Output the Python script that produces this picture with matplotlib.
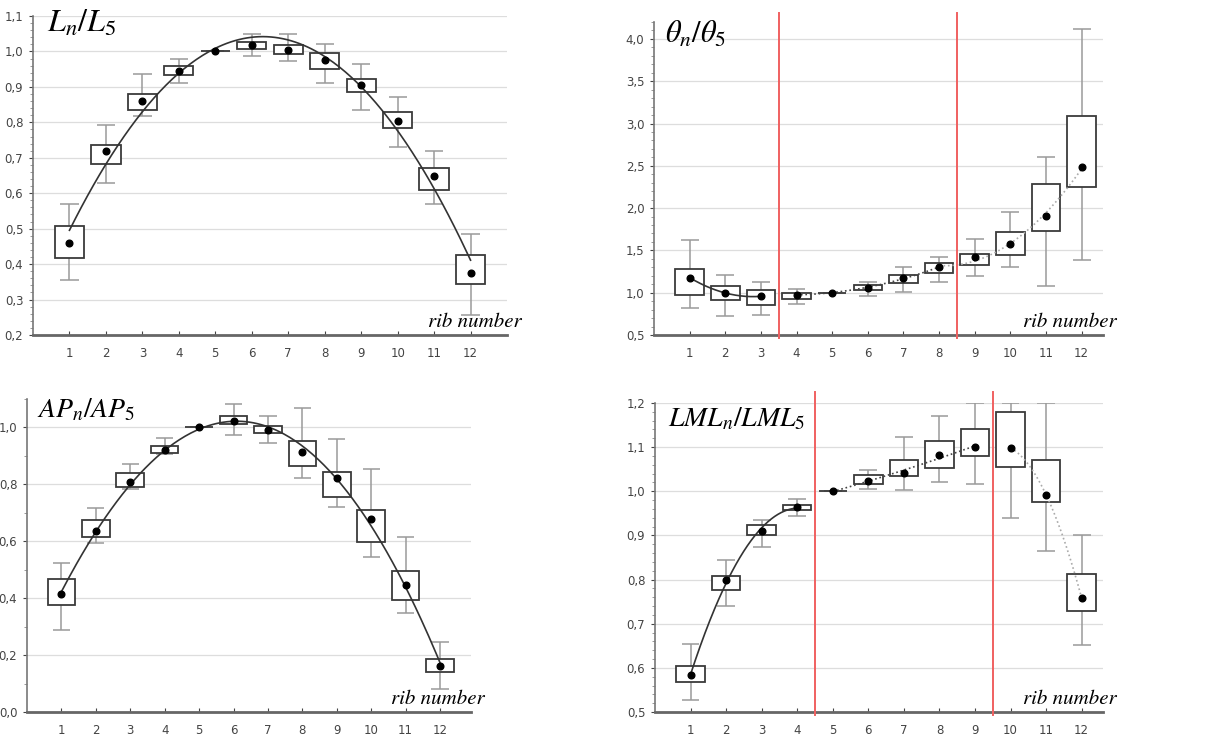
import numpy as np
import matplotlib.pyplot as plt
from matplotlib.ticker import AutoMinorLocator

plt.rcParams['mathtext.fontset'] = 'stix'

ribs = np.arange(1, 13)

# L_n / L_5
len_mean = [0.459, 0.718, 0.859, 0.944, 1.000, 1.018, 1.005, 0.976, 0.906, 0.804, 0.649, 0.376]
len_q3 = [0.508, 0.736, 0.881, 0.958, 1.000, 1.026, 1.017, 0.995, 0.921, 0.829, 0.672, 0.425]
len_q1 = [0.416, 0.683, 0.835, 0.934, 1.000, 1.008, 0.994, 0.950, 0.885, 0.784, 0.609, 0.343]
len_hi = [0.571, 0.793, 0.935, 0.979, 1.000, 1.049, 1.049, 1.020, 0.964, 0.872, 0.720, 0.484]
len_lo = [0.355, 0.630, 0.818, 0.912, 1.000, 0.986, 0.972, 0.912, 0.835, 0.729, 0.571, 0.256]

# theta_n / theta_5
ang_mean = [1.178, 0.997, 0.957, 0.977, 1.000, 1.060, 1.174, 1.300, 1.418, 1.576, 1.911, 2.482]
ang_q3 = [1.276, 1.079, 1.028, 1.000, 1.000, 1.091, 1.213, 1.347, 1.462, 1.714, 2.281, 3.086]
ang_q1 = [0.969, 0.918, 0.851, 0.926, 1.000, 1.028, 1.111, 1.237, 1.324, 1.442, 1.730, 2.254]
ang_hi = [1.619, 1.205, 1.130, 1.048, 1.000, 1.130, 1.308, 1.422, 1.631, 1.954, 2.609, 4.118]
ang_lo = [0.819, 0.728, 0.740, 0.862, 1.000, 0.961, 1.008, 1.123, 1.197, 1.304, 1.079, 1.391]

# AP_n / AP_5
ap_mean = [0.416, 0.636, 0.808, 0.920, 1.000, 1.022, 0.991, 0.912, 0.821, 0.680, 0.446, 0.160]
ap_q3 = [0.467, 0.675, 0.841, 0.936, 1.000, 1.042, 1.006, 0.954, 0.843, 0.709, 0.495, 0.185]
ap_q1 = [0.377, 0.616, 0.789, 0.909, 1.000, 1.012, 0.979, 0.866, 0.754, 0.599, 0.395, 0.140]
ap_hi = [0.522, 0.717, 0.873, 0.963, 1.000, 1.083, 1.042, 1.069, 0.960, 0.853, 0.616, 0.246]
ap_lo = [0.287, 0.593, 0.785, 0.906, 1.000, 0.974, 0.947, 0.821, 0.719, 0.543, 0.347, 0.081]

# LML_n / LML_5
lml_mean = [0.583, 0.798, 0.911, 0.964, 1.000, 1.024, 1.041, 1.083, 1.100, 1.098, 0.992, 0.758]
lml_q3 = [0.605, 0.807, 0.924, 0.970, 1.000, 1.036, 1.070, 1.115, 1.140, 1.179, 1.072, 0.812]
lml_q1 = [0.569, 0.777, 0.900, 0.958, 1.000, 1.016, 1.034, 1.053, 1.081, 1.055, 0.976, 0.728]
lml_hi = [0.654, 0.845, 0.934, 0.983, 1.000, 1.049, 1.122, 1.170, 1.199, 1.199, 1.199, 0.900]
lml_lo = [0.528, 0.739, 0.873, 0.945, 1.000, 1.006, 1.004, 1.020, 1.016, 0.940, 0.864, 0.652]

len_yticks = [0.2, 0.3, 0.4, 0.5, 0.6, 0.7, 0.8, 0.9, 1.0, 1.1]
ang_yticks = [0.5, 1.0, 1.5, 2.0, 2.5, 3.0, 3.5, 4.0]
ap_yticks = [0.0, 0.2, 0.4, 0.6, 0.8, 1.0]
lml_yticks = [0.5, 0.6, 0.7, 0.8, 0.9, 1.0, 1.1, 1.2]

fig = plt.figure(figsize=(12.12, 7.40), dpi=100)


def panel(rect, mean, q1, q3, lo, hi, yticks, ylim, xmax, title, title_pos,
          title_size, fits, splits=(), nminor=5, red_span=(-0.01, 1.03)):
    ax = fig.add_axes(rect)
    mean = np.array(mean)
    q1 = np.array(q1)
    q3 = np.array(q3)
    # whiskers (grey) behind boxes
    ax.vlines(ribs, lo, hi, color='#9a9a9a', lw=1.1, zorder=2)
    ax.hlines(lo, ribs - 0.25, ribs + 0.25, color='#9a9a9a', lw=1.1, zorder=2)
    ax.hlines(hi, ribs - 0.25, ribs + 0.25, color='#9a9a9a', lw=1.1, zorder=2)
    ax.bar(ribs, q3 - q1, bottom=q1, width=0.8, facecolor='white',
           edgecolor='#3a3a3a', lw=1.3, zorder=3)
    # fitted curves through the means
    for a, b, deg, ls, col in fits:
        sel = (ribs >= a) & (ribs <= b)
        c = np.polyfit(ribs[sel], mean[sel], deg)
        xx = np.linspace(a, b, 200)
        ax.plot(xx, np.polyval(c, xx), ls=ls, color=col, lw=1.2, zorder=4)
    ax.plot(ribs, mean, 'o', color='black', ms=4.8, zorder=5)
    for s in splits:
        ax.plot([s, s], list(red_span), transform=ax.get_xaxis_transform(),
                color='#f06060', lw=1.4, clip_on=False, zorder=6)

    ax.set_xlim(0, xmax)
    ax.set_ylim(*ylim)
    ax.set_xticks(ribs)
    ax.set_yticks(yticks)
    ax.set_yticklabels([('%.1f' % t).replace('.', ',') for t in yticks])
    ax.yaxis.set_minor_locator(AutoMinorLocator(nminor))
    ax.grid(axis='y', color='#dddddd', lw=0.9, zorder=0)
    ax.set_axisbelow(True)
    for side in ['top', 'right']:
        ax.spines[side].set_visible(False)
    ax.spines['left'].set_color('#777777')
    ax.spines['left'].set_linewidth(1.2)
    ax.spines['bottom'].set_color('#666666')
    ax.spines['bottom'].set_linewidth(2.0)
    ax.tick_params(axis='x', direction='in', length=3, pad=9, labelsize=8.5,
                   colors='#444444')
    ax.tick_params(axis='y', which='major', direction='out', length=3, pad=4,
                   labelsize=8.5, colors='#444444')
    ax.tick_params(axis='y', which='minor', direction='out', length=2,
                   color='#888888')

    ax.text(title_pos[0], title_pos[1], title, transform=ax.transAxes,
            fontsize=title_size, va='baseline', ha='left')
    ax.text(1.03, 0.012, 'rib number', transform=ax.transAxes, ha='right',
            va='bottom', family='STIXGeneral', style='italic', fontsize=15)
    return ax


panel([33 / 1212, 1 - 335 / 740, 474 / 1212, 319 / 740],
      len_mean, len_q1, len_q3, len_lo, len_hi, len_yticks, (0.2, 1.1), 13,
      r'$L_n/L_5$', (0.03, 0.95), 23,
      fits=[(1, 12, 2, '-', '#333333')])

panel([654 / 1212, 1 - 335 / 740, 449 / 1212, 313 / 740],
      ang_mean, ang_q1, ang_q3, ang_lo, ang_hi, ang_yticks, (0.5, 4.2), 12.6,
      r'$\theta_n/\theta_5$', (0.025, 0.935), 22,
      fits=[(1, 3, 2, '-', '#333333'), (4, 8, 2, ':', '#444444'),
            (8, 12, 2, ':', '#aaaaaa')],
      splits=(3.5, 8.5), red_span=(-0.01, 1.03))

panel([27 / 1212, 1 - 712 / 740, 444 / 1212, 313 / 740],
      ap_mean, ap_q1, ap_q3, ap_lo, ap_hi, ap_yticks, (0.0, 1.1), 12.9,
      r'$AP_n/AP_5$', (0.022, 0.94), 20,
      fits=[(1, 12, 3, '-', '#333333')], nminor=2)

panel([655 / 1212, 1 - 712 / 740, 448 / 1212, 309 / 740],
      lml_mean, lml_q1, lml_q3, lml_lo, lml_hi, lml_yticks, (0.5, 1.2), 12.6,
      r'$LML_n/LML_5$', (0.03, 0.925), 20,
      fits=[(1, 4, 2, '-', '#333333'), (5, 9, 2, ':', '#444444'),
            (10, 12, 2, ':', '#aaaaaa')],
      splits=(4.5, 9.5), red_span=(-0.01, 1.035))

plt.savefig('out.png', dpi=100)
